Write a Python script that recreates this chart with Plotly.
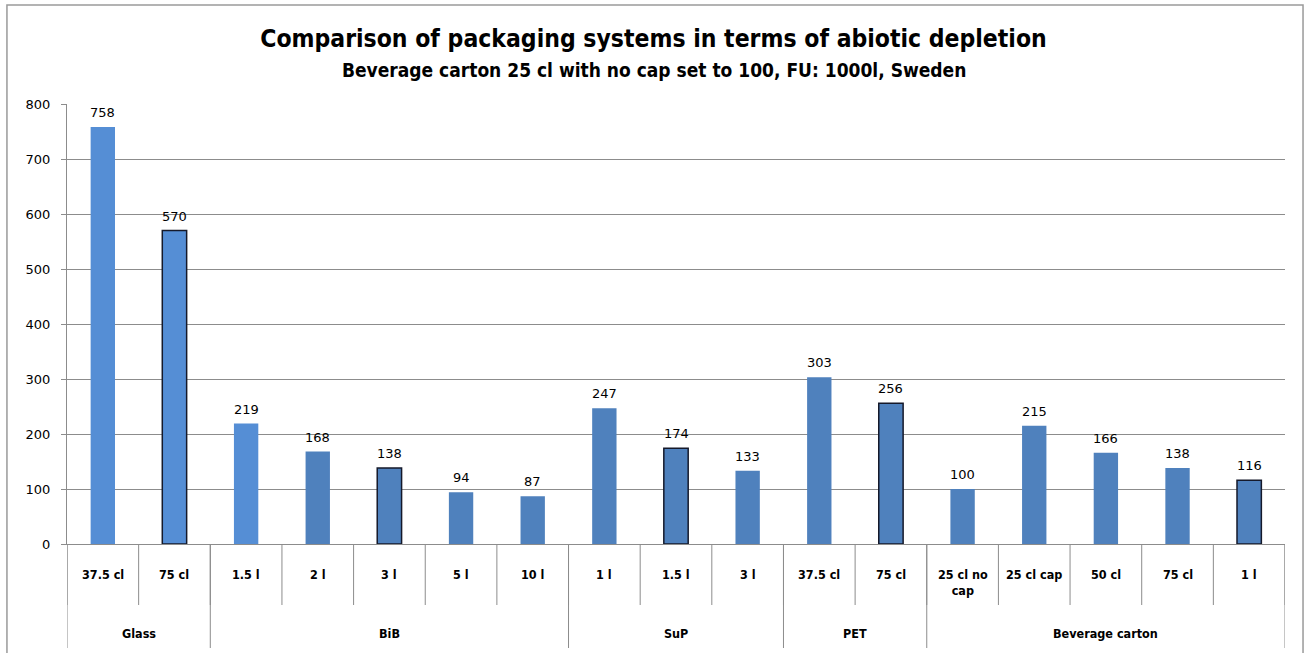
import plotly.graph_objects as go

# data
groups = ["Glass", "BiB", "SuP", "PET", "Beverage carton"]
group_sizes = [2, 5, 3, 2, 5]
sizes = ["37.5 cl", "75 cl",
         "1.5 l", "2 l", "3 l", "5 l", "10 l",
         "1 l", "1.5 l", "3 l",
         "37.5 cl", "75 cl",
         "25 cl no<br>cap", "25 cl cap", "50 cl", "75 cl", "1 l"]
values = [758, 570, 219, 168, 138, 94, 87, 247, 174, 133, 303, 256, 100, 215, 166, 138, 116]

# styling per bar
light, dark = "#558ED5", "#4F81BD"
bar_colors = [light, light, light] + [dark] * 14
outlined = [0, 1, 0, 0, 1, 0, 0, 0, 1, 0, 0, 1, 0, 0, 0, 0, 1]

narrow = "DejaVu Sans Condensed, DejaVu Sans, sans-serif"
grid = "#8C8C8C"

x = list(range(len(values)))

fig = go.Figure(go.Bar(
    x=x, y=values, width=0.34,
    marker=dict(color=bar_colors,
                line=dict(color="#15192a", width=[1.5 * o for o in outlined])),
    hoverinfo="y",
))

annotations = []
# value labels above bars
for i, v in zip(x, values):
    annotations.append(dict(x=i, y=v, xref="x", yref="y", text=str(v), showarrow=False,
                            yanchor="bottom", yshift=5,
                            font=dict(family="DejaVu Sans", size=13, color="#000")))
# category labels
for i, s in zip(x, sizes):
    annotations.append(dict(x=i, y=0, xref="x", yref="paper", text="<b>%s</b>" % s,
                            showarrow=False, yanchor="top", yshift=-21,
                            font=dict(family=narrow, size=12.5, color="#000")))

shapes = []
# short dividers between categories
for i in range(len(values) + 1):
    shapes.append(dict(type="line", xref="x", yref="paper", ysizemode="pixel", yanchor=0,
                       x0=i - 0.5, x1=i - 0.5, y0=0, y1=-61,
                       line=dict(color=grid, width=1)))
# group labels and long dividers
start = 0
bounds = [0]
for g, n in zip(groups, group_sizes):
    annotations.append(dict(x=start + (n - 1) / 2, y=0, xref="x", yref="paper",
                            text="<b>%s</b>" % g, showarrow=False, yanchor="middle",
                            yshift=-89, font=dict(family=narrow, size=12.5, color="#000")))
    start += n
    bounds.append(start)
for b in bounds:
    shapes.append(dict(type="line", xref="x", yref="paper", ysizemode="pixel", yanchor=0,
                       x0=b - 0.5, x1=b - 0.5, y0=0, y1=-104,
                       line=dict(color=grid, width=1)))

# outer chart border
shapes.append(dict(type="rect", xref="paper", yref="paper",
                   x0=-0.0493, x1=1.0148, y0=-0.25, y1=1.225,
                   line=dict(color="#9A9A9A", width=1.5)))

annotations.append(dict(x=0.482, y=1, xref="paper", yref="paper", yanchor="middle", yshift=34,
                        text="<b>Beverage carton 25 cl with no cap set to 100, FU: 1000l, Sweden</b>",
                        showarrow=False, font=dict(family=narrow, size=19, color="#000")))

fig.update_layout(
    width=1307, height=653,
    margin=dict(l=67, r=22, t=104, b=109),
    paper_bgcolor="white", plot_bgcolor="white",
    title=dict(text="<b>Comparison of packaging systems in terms of abiotic depletion</b>",
               x=0.5, xref="container", y=1 - 38 / 653, yanchor="middle",
               font=dict(family=narrow, size=24.5, color="#000")),
    showlegend=False,
    xaxis=dict(range=[-0.5, len(values) - 0.5], showticklabels=False, showgrid=False,
               zeroline=False, showline=True, linecolor=grid, linewidth=1, ticks=""),
    yaxis=dict(range=[0, 800], dtick=100, showgrid=True, gridcolor=grid, gridwidth=1,
               zeroline=False, showline=True, linecolor=grid, linewidth=1,
               ticks="outside", ticklen=5, tickcolor=grid, ticklabelstandoff=8,
               tickfont=dict(family="DejaVu Sans", size=13, color="#000")),
    annotations=annotations,
    shapes=shapes,
)

fig.write_html("out.html", config={"displayModeBar": False},
               post_script="document.body.style.margin='0';")
